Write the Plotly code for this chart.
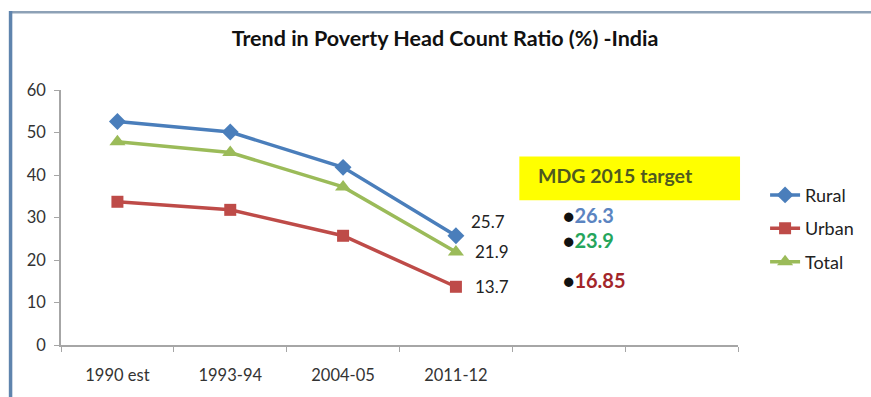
import plotly.graph_objects as go

# Survey periods (two trailing blank slots leave room for the MDG targets)
periods = ["1990 est", "1993-94", "2004-05", "2011-12"]
blank_slots = [" ", "  "]

rural = [52.6, 50.1, 41.8, 25.7]
urban = [33.7, 31.8, 25.7, 13.7]
total = [47.8, 45.3, 37.2, 21.9]

mdg_targets = ["26.3", "23.9", "16.85"]
mdg_colors = ["#5b84c1", "#25a55c", "#a3262a"]

y_ticks = [0, 10, 20, 30, 40, 50, 60]

BLUE = "#4a7ebb"
RED = "#be4b48"
GREEN = "#9bbb59"
FONT = "Lato, Open Sans, sans-serif"

fig = go.Figure()

series = [
    ("Rural", rural, BLUE, "diamond", 13),
    ("Urban", urban, RED, "square", 12),
    ("Total", total, GREEN, "triangle-up", 14),
]
for name, vals, color, symbol, size in series:
    fig.add_trace(go.Scatter(
        x=periods, y=vals, name=name, mode="lines+markers",
        line=dict(color=color, width=3.5),
        marker=dict(symbol=symbol, size=size, color=color),
        legendgroup=name,
    ))

# Value labels on the latest survey point
label_offsets = {"Rural": (32, 14), "Urban": (36, 0), "Total": (36, 0)}
for name, vals, color, symbol, size in series:
    dx, dy = label_offsets[name]
    fig.add_annotation(
        x=periods[-1], y=vals[-1], xref="x", yref="y",
        text=f"{vals[-1]}", showarrow=False,
        xshift=dx, yshift=dy,
        font=dict(family=FONT, size=17, color="#222222"),
    )

# MDG 2015 target box
fig.add_shape(type="rect", xref="paper", yref="paper",
              x0=0.677, x1=1.003, y0=0.568, y1=0.739,
              fillcolor="#ffff00", line=dict(width=0), layer="below")
fig.add_annotation(xref="paper", yref="paper", x=0.701, y=0.665,
                   xanchor="left", yanchor="middle", showarrow=False,
                   text="<b>MDG 2015 target</b>",
                   font=dict(family=FONT, size=19.5, color="#4f5a1f"))

mdg_y = [0.51, 0.413, 0.253]
for val, col, yy in zip(mdg_targets, mdg_colors, mdg_y):
    fig.add_annotation(
        xref="paper", yref="paper", x=0.738, y=yy,
        xanchor="left", yanchor="middle", showarrow=False,
        text=f"<span style='color:#111111;font-size:19px'>●</span><b>{val}</b>",
        font=dict(family=FONT, size=20, color=col),
    )

# Slide frame
fig.add_shape(type="line", xref="paper", yref="paper",
              x0=-0.075, x1=1.3, y0=1.305, y1=1.305,
              line=dict(color="#8da1b6", width=2.5))
fig.add_shape(type="line", xref="paper", yref="paper",
              x0=-0.0745, x1=-0.0745, y0=-0.3, y1=1.31,
              line=dict(color="#5f84ad", width=3.5))

fig.update_layout(
    width=871, height=397,
    margin=dict(l=61, r=132, t=90, b=50),
    paper_bgcolor="white", plot_bgcolor="white",
    title=dict(text="<b>Trend in Poverty Head Count Ratio (%) -India</b>",
               x=0.511, xanchor="center", y=0.902, yanchor="middle",
               font=dict(family=FONT, size=21.5, color="#111111")),
    font=dict(family=FONT, size=16, color="#333333"),
    showlegend=True,
    legend=dict(x=1.04, xanchor="left", y=0.66, yanchor="top",
                font=dict(family=FONT, size=18, color="#222222"),
                tracegroupgap=7, bgcolor="rgba(0,0,0,0)",
                itemwidth=30),
    xaxis=dict(
        type="category", categoryorder="array",
        categoryarray=periods + blank_slots,
        range=[-0.5, 5.5], tickson="boundaries",
        ticks="outside", ticklen=5, tickcolor="#a6a6a6",
        ticklabelstandoff=14,
        showline=True, linecolor="#a6a6a6", linewidth=1.5,
        showgrid=False, zeroline=False,
        tickfont=dict(family=FONT, size=16.5, color="#333333"),
    ),
    yaxis=dict(
        range=[0, 60], tickvals=y_ticks,
        ticks="outside", ticklen=5, tickcolor="#a6a6a6",
        ticklabelstandoff=5,
        showline=True, linecolor="#a6a6a6", linewidth=1.5,
        showgrid=False, zeroline=False,
        tickfont=dict(family=FONT, size=16.5, color="#333333"),
    ),
)

fig.write_html("out.html")
